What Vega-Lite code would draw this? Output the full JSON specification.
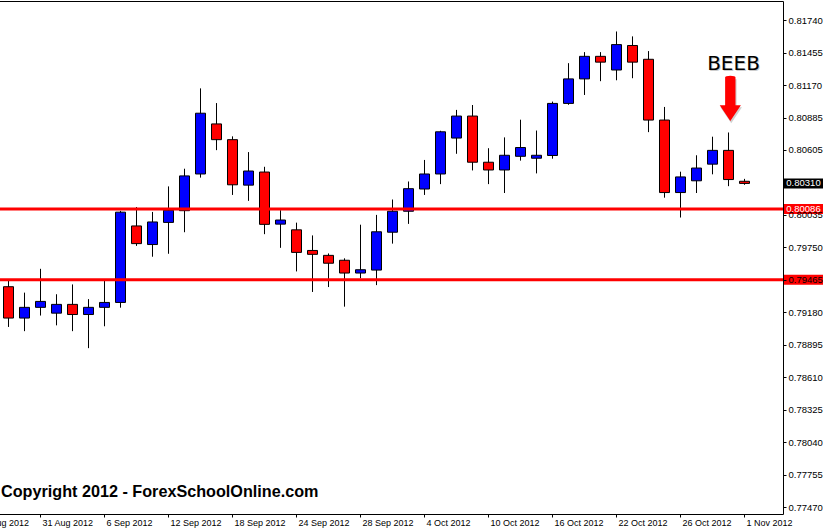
{
  "$schema": "https://vega.github.io/schema/vega-lite/v6.json",
  "width": 784,
  "height": 513,
  "autosize": "none",
  "padding": {"left": -1, "top": 1, "right": 41, "bottom": 16},
  "background": "white",
  "config": {
    "view": {"stroke": "black", "strokeWidth": 1},
    "axis": {"labelFont": "Liberation Sans", "labelColor": "black", "tickColor": "black", "domain": false, "grid": false, "labelOverlap": false, "labelFlush": false, "labelBound": false},
    "axisY": {"labelOverlap": false, "labelFontSize": 9.5, "labelPadding": 2, "tickSize": 3, "zindex": 1, "tickCount": 40},
    "axisX": {"labelOverlap": false, "labelFontSize": 9, "tickSize": 3, "zindex": 1}
  },
  "datasets": {
    "candles": [
      {"date": "29 Aug 2012", "open": 0.79404, "high": 0.79467, "low": 0.79051, "close": 0.79129},
      {"date": "30 Aug 2012", "open": 0.79129, "high": 0.79352, "low": 0.79014, "close": 0.79223},
      {"date": "31 Aug 2012", "open": 0.79223, "high": 0.79561, "low": 0.79151, "close": 0.79275},
      {"date": "3 Sep 2012", "open": 0.79172, "high": 0.79338, "low": 0.79065, "close": 0.79249},
      {"date": "4 Sep 2012", "open": 0.79249, "high": 0.79424, "low": 0.79014, "close": 0.7916},
      {"date": "5 Sep 2012", "open": 0.7916, "high": 0.79295, "low": 0.78865, "close": 0.79223},
      {"date": "6 Sep 2012", "open": 0.79223, "high": 0.79458, "low": 0.79057, "close": 0.79266},
      {"date": "7 Sep 2012", "open": 0.79266, "high": 0.80069, "low": 0.7922, "close": 0.80058},
      {"date": "10 Sep 2012", "open": 0.79937, "high": 0.80103, "low": 0.79762, "close": 0.79782},
      {"date": "11 Sep 2012", "open": 0.79774, "high": 0.8006, "low": 0.79667, "close": 0.79972},
      {"date": "12 Sep 2012", "open": 0.79968, "high": 0.80284, "low": 0.79693, "close": 0.80075},
      {"date": "13 Sep 2012", "open": 0.80071, "high": 0.80439, "low": 0.79882, "close": 0.80376},
      {"date": "14 Sep 2012", "open": 0.80393, "high": 0.81144, "low": 0.80361, "close": 0.80926},
      {"date": "17 Sep 2012", "open": 0.80832, "high": 0.81015, "low": 0.80602, "close": 0.80694},
      {"date": "18 Sep 2012", "open": 0.80694, "high": 0.80723, "low": 0.80209, "close": 0.80298},
      {"date": "19 Sep 2012", "open": 0.80295, "high": 0.80585, "low": 0.80157, "close": 0.80419},
      {"date": "20 Sep 2012", "open": 0.8041, "high": 0.80456, "low": 0.79865, "close": 0.79951},
      {"date": "21 Sep 2012", "open": 0.79953, "high": 0.80075, "low": 0.79745, "close": 0.79989},
      {"date": "24 Sep 2012", "open": 0.79903, "high": 0.79966, "low": 0.79538, "close": 0.79705},
      {"date": "25 Sep 2012", "open": 0.79722, "high": 0.79854, "low": 0.79358, "close": 0.79688},
      {"date": "26 Sep 2012", "open": 0.79679, "high": 0.79696, "low": 0.79401, "close": 0.7961},
      {"date": "27 Sep 2012", "open": 0.79636, "high": 0.79653, "low": 0.79229, "close": 0.79524},
      {"date": "28 Sep 2012", "open": 0.79524, "high": 0.79948, "low": 0.79478, "close": 0.79553},
      {"date": "1 Oct 2012", "open": 0.7955, "high": 0.80034, "low": 0.79418, "close": 0.79886},
      {"date": "2 Oct 2012", "open": 0.79882, "high": 0.80169, "low": 0.79782, "close": 0.80066},
      {"date": "3 Oct 2012", "open": 0.80066, "high": 0.80327, "low": 0.79955, "close": 0.80264},
      {"date": "4 Oct 2012", "open": 0.80261, "high": 0.80516, "low": 0.80209, "close": 0.80393},
      {"date": "5 Oct 2012", "open": 0.80393, "high": 0.80772, "low": 0.80304, "close": 0.80763},
      {"date": "8 Oct 2012", "open": 0.80708, "high": 0.80955, "low": 0.8057, "close": 0.80901},
      {"date": "9 Oct 2012", "open": 0.80901, "high": 0.80998, "low": 0.80424, "close": 0.80496},
      {"date": "10 Oct 2012", "open": 0.80496, "high": 0.80619, "low": 0.80304, "close": 0.80428},
      {"date": "11 Oct 2012", "open": 0.80428, "high": 0.80714, "low": 0.80226, "close": 0.80557},
      {"date": "12 Oct 2012", "open": 0.80548, "high": 0.80869, "low": 0.8051, "close": 0.80625},
      {"date": "15 Oct 2012", "open": 0.80531, "high": 0.80774, "low": 0.80398, "close": 0.80557},
      {"date": "16 Oct 2012", "open": 0.80555, "high": 0.81028, "low": 0.80527, "close": 0.81012},
      {"date": "17 Oct 2012", "open": 0.81012, "high": 0.81365, "low": 0.81, "close": 0.81227},
      {"date": "18 Oct 2012", "open": 0.81227, "high": 0.81462, "low": 0.81086, "close": 0.81425},
      {"date": "19 Oct 2012", "open": 0.81425, "high": 0.81462, "low": 0.81207, "close": 0.81374},
      {"date": "22 Oct 2012", "open": 0.81305, "high": 0.81643, "low": 0.81215, "close": 0.81528},
      {"date": "23 Oct 2012", "open": 0.8152, "high": 0.816, "low": 0.81233, "close": 0.81374},
      {"date": "24 Oct 2012", "open": 0.81399, "high": 0.81471, "low": 0.8076, "close": 0.80866},
      {"date": "25 Oct 2012", "open": 0.80866, "high": 0.80981, "low": 0.80185, "close": 0.8023},
      {"date": "26 Oct 2012", "open": 0.8023, "high": 0.80413, "low": 0.80011, "close": 0.80367},
      {"date": "29 Oct 2012", "open": 0.80333, "high": 0.80557, "low": 0.80226, "close": 0.80445},
      {"date": "30 Oct 2012", "open": 0.80479, "high": 0.8072, "low": 0.8039, "close": 0.806},
      {"date": "31 Oct 2012", "open": 0.806, "high": 0.80757, "low": 0.80286, "close": 0.80344},
      {"date": "1 Nov 2012", "open": 0.80329, "high": 0.8035, "low": 0.80298, "close": 0.8031}
    ],
    "levels": [{"price": 0.80086}, {"price": 0.79465}],
    "tags": [
      {"price": 0.8031, "kind": "current"},
      {"price": 0.80086, "kind": "level"},
      {"price": 0.79465, "kind": "level"}
    ]
  },
  "layer": [
    {
      "layer": [
        {
          "data": {"name": "candles"},
          "mark": {"type": "rule", "color": "black", "strokeWidth": 1},
          "encoding": {
            "x": {
              "field": "date", "type": "ordinal",
              "scale": {
                "domain": ["27 Aug 2012", "28 Aug 2012", "29 Aug 2012", "30 Aug 2012", "31 Aug 2012", "3 Sep 2012", "4 Sep 2012", "5 Sep 2012", "6 Sep 2012", "7 Sep 2012", "10 Sep 2012", "11 Sep 2012", "12 Sep 2012", "13 Sep 2012", "14 Sep 2012", "17 Sep 2012", "18 Sep 2012", "19 Sep 2012", "20 Sep 2012", "21 Sep 2012", "24 Sep 2012", "25 Sep 2012", "26 Sep 2012", "27 Sep 2012", "28 Sep 2012", "1 Oct 2012", "2 Oct 2012", "3 Oct 2012", "4 Oct 2012", "5 Oct 2012", "8 Oct 2012", "9 Oct 2012", "10 Oct 2012", "11 Oct 2012", "12 Oct 2012", "15 Oct 2012", "16 Oct 2012", "17 Oct 2012", "18 Oct 2012", "19 Oct 2012", "22 Oct 2012", "23 Oct 2012", "24 Oct 2012", "25 Oct 2012", "26 Oct 2012", "29 Oct 2012", "30 Oct 2012", "31 Oct 2012", "1 Nov 2012"],
                "range": [-30.5, 753.5],
                "paddingInner": 0,
                "paddingOuter": 0
              },
              "axis": {
                "title": null,
                "values": ["27 Aug 2012", "31 Aug 2012", "6 Sep 2012", "12 Sep 2012", "18 Sep 2012", "24 Sep 2012", "28 Sep 2012", "4 Oct 2012", "10 Oct 2012", "16 Oct 2012", "22 Oct 2012", "26 Oct 2012", "1 Nov 2012"],
                "labelAngle": 0,
                "labelAlign": "left",
                "labelOffset": 2,
                "labelPadding": 1,
                "tickSize": 3,
                "labelFontSize": 9,
                "labelOverlap": false,
                "labelFlush": false,
                "labelBound": false,
                "zindex": 1
              }
            },
            "y": {
              "field": "low", "type": "quantitative",
              "scale": {"domain": [0.77454, 0.818665], "zero": false, "nice": false},
              "axis": {
                "title": null,
                "orient": "right",
                "values": [0.8174, 0.81455, 0.8117, 0.80885, 0.80605, 0.80035, 0.7975, 0.79465, 0.7918, 0.78895, 0.7861, 0.78325, 0.7804, 0.77755, 0.7747],
                "tickCount": 40,
                "format": ".5f",
                "tickSize": 3,
                "labelPadding": 2,
                "labelFontSize": 9.5,
                "labelOverlap": false,
                "labelFlush": false,
                "labelBound": false,
                "zindex": 1
              }
            },
            "y2": {"field": "high"}
          }
        },
        {
          "data": {"name": "candles"},
          "mark": {"type": "bar", "width": 10, "stroke": "black", "strokeWidth": 1},
          "encoding": {
            "x": {"field": "date", "type": "ordinal"},
            "y": {"field": "open", "type": "quantitative"},
            "y2": {"field": "close"},
            "fill": {
              "condition": {"test": "datum.close >= datum.open", "value": "#0000FF"},
              "value": "#FF0000"
            }
          }
        },
        {
          "data": {"name": "levels"},
          "mark": {"type": "rule", "color": "#FF0000", "strokeWidth": 3},
          "encoding": {"y": {"field": "price", "type": "quantitative"}}
        },
        {
          "data": {"values": [{"date": "31 Oct 2012", "price": 0.81359, "note": "BEEB"}]},
          "mark": {"type": "text", "font": "DejaVu Sans", "fontSize": 20, "color": "#999999", "opacity": 0.5, "dx": 6, "dy": 1, "align": "center", "baseline": "middle"},
          "encoding": {
            "x": {"field": "date", "type": "ordinal"},
            "y": {"field": "price", "type": "quantitative"},
            "text": {"field": "note"}
          }
        },
        {
          "data": {"values": [{"date": "31 Oct 2012", "price": 0.81359, "note": "BEEB"}]},
          "mark": {"type": "text", "font": "DejaVu Sans", "fontSize": 20, "color": "black", "dx": 5, "align": "center", "baseline": "middle"},
          "encoding": {
            "x": {"field": "date", "type": "ordinal"},
            "y": {"field": "price", "type": "quantitative"},
            "text": {"field": "note"}
          }
        },
        {
          "data": {"values": [{"date": "31 Oct 2012", "price": 0.81054}]},
          "mark": {"type": "point", "filled": true, "color": "#777777", "opacity": 0.35, "size": 2025,
                   "shape": "M -0.12 -0.86 L 0.36 -0.86 L 0.36 0.38 L 0.6 0.38 L 0.12 1.09 L -0.36 0.38 L -0.12 0.38 Z"},
          "encoding": {
            "x": {"field": "date", "type": "ordinal"},
            "y": {"field": "price", "type": "quantitative"}
          }
        },
        {
          "data": {"values": [{"date": "31 Oct 2012", "price": 0.81054}]},
          "mark": {"type": "point", "filled": true, "color": "#FF0000", "opacity": 1, "size": 2025,
                   "shape": "M -0.15 -0.95 Q -0.15 -1.02 0.08 -1.02 Q 0.31 -1.02 0.31 -0.95 L 0.31 0.29 L 0.55 0.29 L 0.08 1 L -0.39 0.29 L -0.15 0.29 Z"},
          "encoding": {
            "x": {"field": "date", "type": "ordinal"},
            "y": {"field": "price", "type": "quantitative"}
          }
        },
        {
          "data": {"values": [{"date": "29 Aug 2012", "price": 0.77558, "note": "Copyright 2012 - ForexSchoolOnline.com"}]},
          "mark": {"type": "text", "font": "Liberation Sans", "fontSize": 16.2, "fontWeight": "bold", "color": "black", "dx": -7.5, "align": "left", "baseline": "alphabetic"},
          "encoding": {
            "x": {"field": "date", "type": "ordinal"},
            "y": {"field": "price", "type": "quantitative"},
            "text": {"field": "note"}
          }
        }
      ]
    },
    {
      "data": {"name": "tags"},
      "layer": [
        {
          "mark": {"type": "bar", "height": 10},
          "encoding": {
            "x": {"datum": 0, "type": "quantitative", "scale": {"domain": [0, 1], "range": [785, 824]}, "axis": null},
            "x2": {"datum": 1},
            "y": {"field": "price", "type": "quantitative"},
            "color": {"field": "kind", "type": "nominal", "scale": {"domain": ["current", "level"], "range": ["#000000", "#FF0000"]}, "legend": null}
          }
        },
        {
          "transform": [{"filter": "datum.price != 0.79465"}],
          "mark": {"type": "text", "font": "Liberation Sans", "fontSize": 9.5, "color": "white", "align": "center", "baseline": "middle"},
          "encoding": {
            "x": {"datum": 0.5, "type": "quantitative", "scale": {"domain": [0, 1], "range": [785, 824]}, "axis": null},
            "y": {"field": "price", "type": "quantitative"},
            "text": {"field": "price", "type": "quantitative", "format": ".5f"}
          }
        }
      ]
    }
  ],
  "resolve": {"scale": {"x": "independent"}}
}
